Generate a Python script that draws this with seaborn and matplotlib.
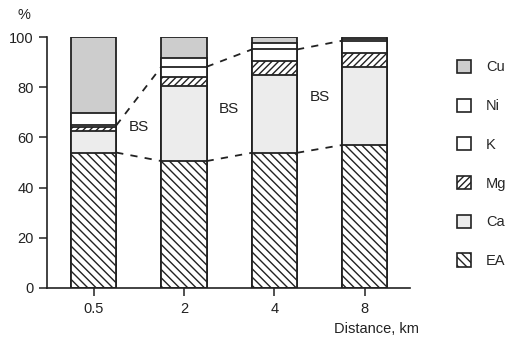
import numpy as np
import pandas as pd
import matplotlib
matplotlib.use("Agg")
import matplotlib.pyplot as plt
from matplotlib.patches import Patch
import seaborn as sns

# Cation composition (%) at each distance from the source
distances = ["0.5", "2", "4", "8"]
ea = [54.0, 50.6, 53.9, 57.0]
ca = [8.5, 29.9, 31.0, 31.2]
mg = [1.5, 3.6, 5.7, 5.6]
k = [0.8, 4.1, 4.5, 4.8]
ni = [5.0, 3.5, 2.4, 0.7]
cu = [30.2, 8.3, 2.5, 0.7]

layers = ["EA", "Ca", "Mg", "K", "Ni", "Cu"]
values = [ea, ca, mg, k, ni, cu]
faces = {"EA": "white", "Ca": "#ececec", "Mg": "white", "K": "white",
         "Ni": "white", "Cu": "#cdcdcd"}
hatches = {"EA": "\\\\\\\\", "Ca": None, "Mg": "/////", "K": None,
           "Ni": None, "Cu": None}

sns.set_theme(style="ticks")
plt.rcParams["font.family"] = ["Liberation Sans", "DejaVu Sans"]
plt.rcParams["hatch.linewidth"] = 1.0
plt.rcParams["hatch.color"] = "#222222"

df = pd.DataFrame({name: vals for name, vals in zip(layers, values)})
df["Distance"] = distances
cum = df[layers].cumsum(axis=1)
cum["Distance"] = distances

fig = plt.figure(figsize=(5.14, 3.38), dpi=100)
ax = fig.add_axes([0.0924, 0.148, 0.7053, 0.742])

# Cumulative bars, drawn from the top layer down so each sits on the one below
for name in reversed(layers):
    sns.barplot(data=cum, x="Distance", y=name, order=distances, ax=ax,
                color=faces[name], saturation=1, width=0.5,
                edgecolor="#222222", linewidth=1.3, hatch=hatches[name])

# Base saturation envelope: top of EA and top of K between neighbouring bars
ea_top = cum["EA"].to_numpy()
bs_top = cum["K"].to_numpy()
for i in range(len(distances) - 1):
    for level in (ea_top, bs_top):
        ax.plot([i + 0.25, i + 0.75], [level[i], level[i + 1]],
                color="#222222", lw=1.3, ls=(0, (4, 4)))

bs_label_y = [64, 71.5, 76]
for i, yv in enumerate(bs_label_y):
    ax.text(i + 0.5, yv, "BS", ha="center", va="center", fontsize=11,
            color="#222222")

ax.set_xlim(-0.51, 3.5)
ax.set_ylim(0, 100)
ax.set_yticks([0, 20, 40, 60, 80, 100])
ax.set_xlabel("")
ax.set_ylabel("")
ax.tick_params(axis="both", direction="out", length=6, width=1.1,
               colors="#222222", labelsize=10.5, pad=4)
for side in ("top", "right"):
    ax.spines[side].set_visible(False)
for side in ("left", "bottom"):
    ax.spines[side].set_linewidth(1.2)
    ax.spines[side].set_color("#222222")
ax.set_facecolor("white")

fig.text(24 / 514, 1 - 15 / 338, "%", ha="center", va="center",
         fontsize=10.5, color="#222222")
fig.text(419 / 514, 1 - 329 / 338, "Distance, km", ha="right",
         va="center", fontsize=10.5, color="#222222")

handles = [Patch(facecolor=faces[n], edgecolor="#222222", hatch=hatches[n],
                 linewidth=1.2, label=n) for n in reversed(layers)]
fig.legend(handles=handles, loc="upper left",
           bbox_to_anchor=(451 / 514, 1 - 54 / 338), frameon=False,
           handlelength=1.0, handleheight=1.0, handletextpad=1.0,
           labelspacing=1.66, fontsize=10.5, borderaxespad=0)

fig.savefig("out.png", dpi=100, facecolor="white")
